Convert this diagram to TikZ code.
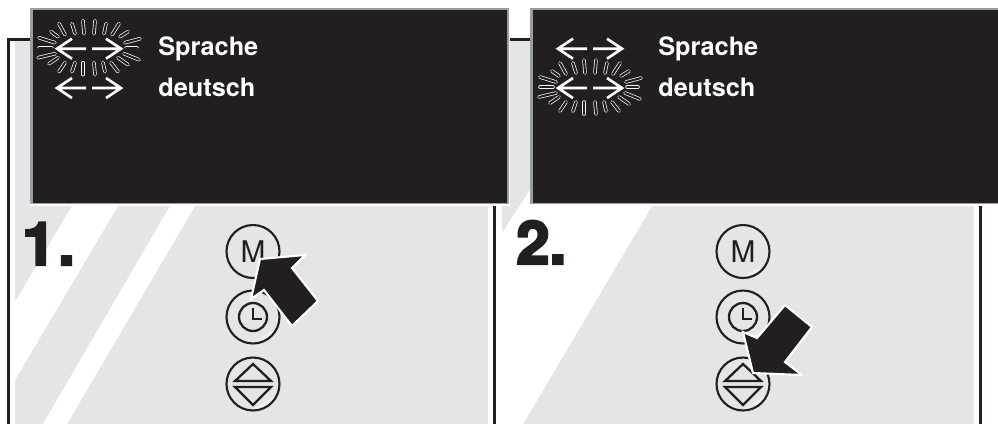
\documentclass[tikz,border=0pt]{standalone}
\usepackage{fontspec}
\setmainfont{TeX Gyre Heros}
\newfontfamily\numfont[BoldFeatures={RawFeature={embolden=4}}]{TeX Gyre Heros}
\definecolor{panelblack}{HTML}{231F20}
\definecolor{panelgrey}{HTML}{E4E5E7}
\definecolor{rimgrey}{HTML}{9A9C9F}
\tikzset{
  frameline/.style={panelblack,line width=1.7pt},
  knob/.style={circle,draw=panelblack,fill=panelgrey,line width=1.2pt,minimum size=1.06cm,inner sep=0pt,font=\fontsize{17}{17}\selectfont,text=panelblack},
  icon/.style={panelblack,line width=1.3pt},
  label/.style={white,anchor=base west,inner sep=0pt,font=\fontsize{14.4}{14.4}\bfseries\selectfont},
  stepno/.style={panelblack,anchor=base west,inner sep=0pt,font=\fontsize{34}{34}\numfont\bfseries},
  pointer/.style={fill=panelblack,draw=white,line width=1.2pt,miter limit=3},
  flash/.pic={
    \foreach \xa/\ya/\xb/\yb in {-29/-25/-23/-14,-16/-25/-13/-15,-5/-28/-4/-15,7/-28/6/-15,18/-25/16/-15,31/-25/24/-14,
      -37/-17/-30/-12,40/-17/32/-12,-49/-11/-33/-6,52/-10/37/-6,-49/-1/-36/-1,49/-1/38/-1,
      -50/9/-33/5,51/11/36/5,-39/15/-30/9,40/16/30/9,-29/23/-23/14,-16/23/-13/14,-5/26/-5/14,7/26/6/14,17/23/15/14,30/23/23/14}{
      \draw[white,line width=2pt,line cap=round] (\xa,\ya) -- (\xb,\yb);
      \draw[panelblack,line width=1.2pt,line cap=round] (\xa,\ya) -- (\xb,\yb);
    }
  },
  twoway/.pic={
    \draw[white,line width=1.5pt] (-3,0) -- (-32,0) (-17,-10) -- (-32,0) -- (-17,10);
    \draw[white,line width=1.5pt] (3,0) -- (32,0) (17,-10) -- (32,0) -- (17,10);
  },
  streak/.pic={
    \fill[white!45!panelgrey] (21,13) .. controls (15,21) .. (2,25) .. controls (12,18) .. (21,13);
  },
  dial/.pic={
    \draw[icon] (0,0) circle (14);
    \draw[icon] (0,-9) -- (0,2) -- (9,2);
  },
  updown/.pic={
    \draw[icon,line join=miter] (-18,-3) -- (0,-20) -- (18,-3) -- cycle;
    \draw[icon,line join=miter] (-18,3) -- (0,21) -- (18,3) -- cycle;
  }
}
\begin{document}
\begin{tikzpicture}[x=0.02cm,y=-0.02cm]
\useasboundingbox (0,0) rectangle (998,424);
% grey backgrounds
\fill[panelgrey] (15,40) rectangle (488,424);
\fill[panelgrey] (502,40) rectangle (974,424);
\fill[white] (72,206) -- (118,206) -- (15,380) -- (15,302) -- cycle;
\fill[white] (170,206) -- (195,206) -- (67,424) -- (43,424) -- cycle;
\fill[white] (530,190) -- (502,233) -- (502,424) -- (523,424) -- (652,206) -- (652,190) -- cycle;
% frame
\draw[frameline] (30,39.5) -- (8.5,39.5) -- (8.5,424);
\draw[frameline] (494.5,206) -- (494.5,424);
\draw[frameline] (510,39.5) -- (530,39.5);
\draw[frameline] (980.5,206) -- (980.5,424);
% displays
\fill[white] (30,8) rectangle (510,206);
\fill[white] (530,8) rectangle (998,206);
\fill[rimgrey] (30,8) rectangle (509,204);
\fill[panelblack] (32.5,10) rectangle (507,203);
\fill[rimgrey] (530,8) rectangle (998,204);
\fill[panelblack] (533,10) rectangle (998,203);
% display 1
\pic at (88,48.7) {flash};
\pic at (89,48.7) {twoway};
\pic at (89,88) {twoway};
\node[label] (lang1) at (158,55) {Sprache};
\node[label] (value1) at (158,96) {deutsch};
% display 2
\pic at (589,88) {flash};
\pic at (590,48.7) {twoway};
\pic at (590,88) {twoway};
\node[label] (lang2) at (658,55) {Sprache};
\node[label] (value2) at (658,96) {deutsch};
% step numbers
\node[stepno] (no1) at (22,265) {1\kern1.5pt.};
\node[stepno] (no2) at (516,264) {2.};
% buttons
\foreach \n/\bx in {1/253,2/743}{
  \node[knob] (mode\n) at (\bx,251.5) {M};
  \node[knob] (time\n) at (\bx,317) {};
  \node[knob] (move\n) at (\bx,384) {};
  \pic at (mode\n) {streak};
  \pic at (time\n) {streak};
  \pic at (move\n) {streak};
  \pic at (time\n) {dial};
  \pic at (move\n) {updown};
}
% pointers
\draw[pointer] (260,259) -- (305,255) -- (292,268) -- (318,301) -- (292,326) -- (264,290) -- (251,299) -- cycle;
\draw[pointer] (743,332) -- (753,373) -- (802,375) -- (785,362) -- (812,327) -- (785,305) -- (757,338) -- cycle;
\end{tikzpicture}
\end{document}
